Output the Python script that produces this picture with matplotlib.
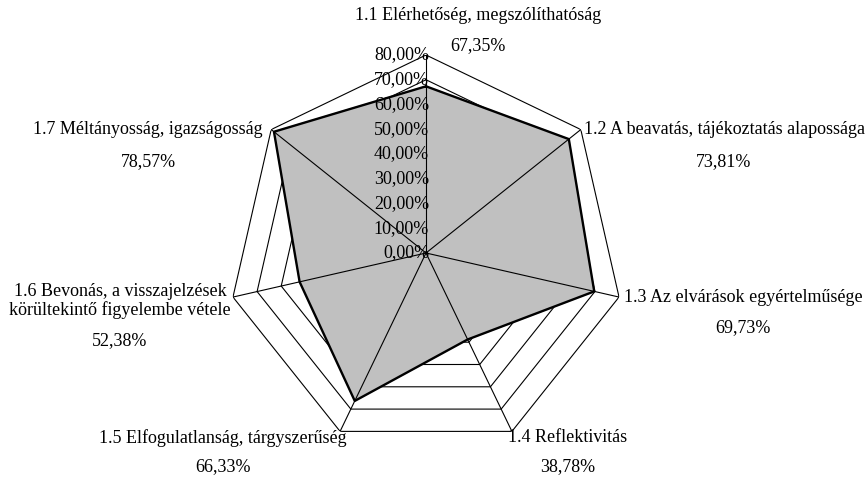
import numpy as np
import matplotlib.pyplot as plt

plt.rcParams['font.family'] = ['Liberation Serif', 'DejaVu Serif']

categories = [
    "1.1 Elérhetőség, megszólíthatóság",
    "1.2 A beavatás, tájékoztatás alapossága",
    "1.3 Az elvárások egyértelműsége",
    "1.4 Reflektivitás",
    "1.5 Elfogulatlanság, tárgyszerűség",
    "1.6 Bevonás, a visszajelzések\nkörültekintő figyelembe vétele",
    "1.7 Méltányosság, igazságosság",
]
values = [67.35, 73.81, 69.73, 38.78, 66.33, 52.38, 78.57]
ticks = [0, 10, 20, 30, 40, 50, 60, 70, 80]

# label placement in pixels (x center, y of name, y of value)
label_pos = [
    (478, 15, 46),
    (724, 130, 162),
    (743, 297, 328),
    (568, 438, 467),
    (223, 438, 467),
    (120, 301, 341),
    (148, 130, 162),
]

W, H = 868, 479
fig = plt.figure(figsize=(W / 100, H / 100), dpi=100)
cx, cy, R = 426, 253, 198
ax = fig.add_axes([(cx - R) / W, 1 - (cy + R) / H, 2 * R / W, 2 * R / H],
                  projection='polar')
ax.set_theta_offset(np.pi / 2)
ax.set_theta_direction(-1)
ax.set_ylim(0, 80)
ax.axis('off')

n = len(values)
ang = np.linspace(0, 2 * np.pi, n, endpoint=False)
ang_c = np.append(ang, ang[0])

# grid rings (drawn under the fill, outer ones visible)
for t in ticks[1:]:
    ax.plot(ang_c, [t] * (n + 1), color='black', lw=0.8, zorder=1)

vals_c = np.append(values, values[0])
ax.fill(ang_c, vals_c, color='#c0c0c0', zorder=2)
ax.plot(ang_c, vals_c, color='black', lw=1.7, zorder=4)

# spokes
for a in ang:
    ax.plot([a, a], [0, 80], color='black', lw=0.8, zorder=3)

# radial tick labels
for t in ticks:
    ax.annotate(f"{t:.2f}".replace('.', ',') + "%", xy=(0, t),
                xytext=(3, 0), textcoords='offset pixels',
                ha='right', va='center', fontsize=13, zorder=5)

for cat, v, (x, y1, y2) in zip(categories, values, label_pos):
    fig.text(x / W, 1 - y1 / H, cat, ha='center', va='center',
             fontsize=13, linespacing=1.05)
    fig.text(x / W, 1 - y2 / H, f"{v:.2f}".replace('.', ',') + "%",
             ha='center', va='center', fontsize=13)

fig.savefig('out.png', dpi=100)
